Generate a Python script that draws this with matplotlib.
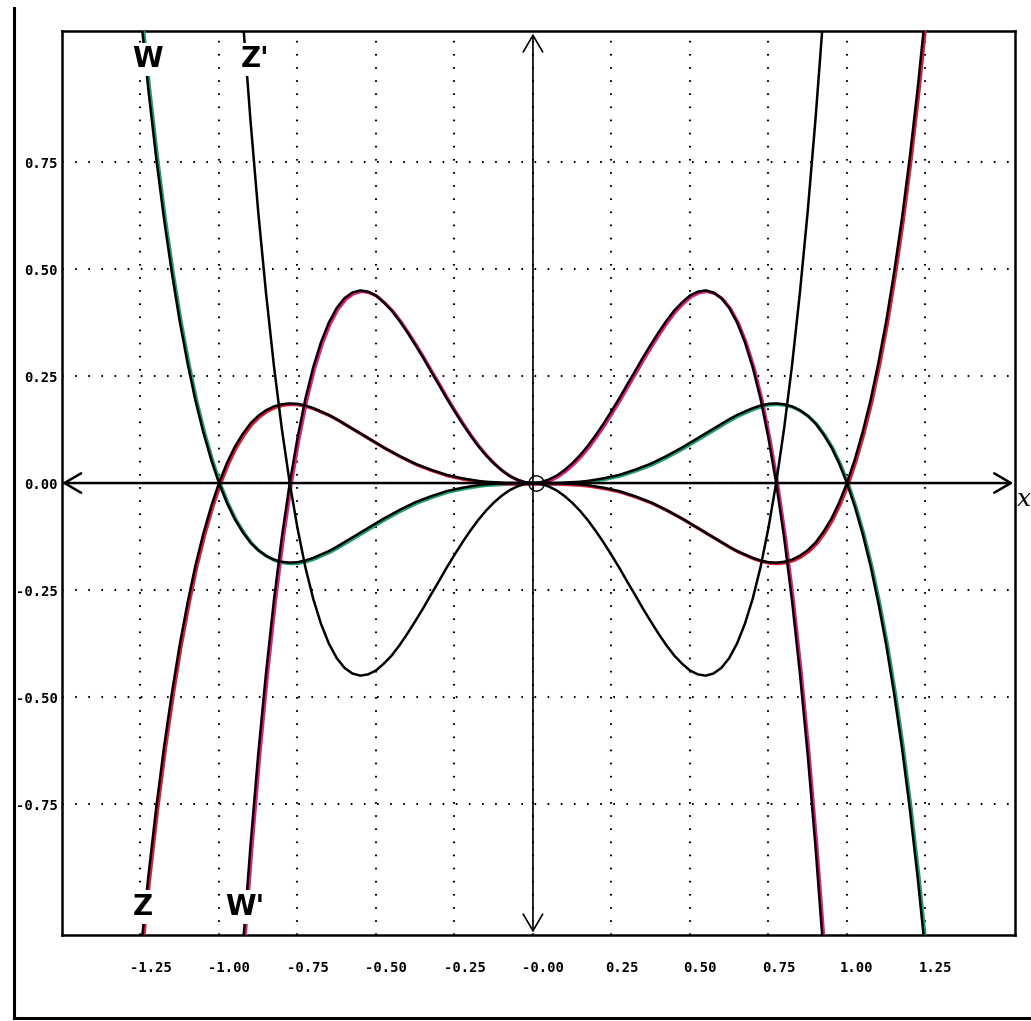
import numpy as np
import matplotlib
matplotlib.use('Agg')
import matplotlib.pyplot as plt
from matplotlib.lines import Line2D
from matplotlib import transforms

# ====================== DATI ======================
# ascisse di lettura: passo 0.025
x_small = np.round(np.arange(-1.25, 1.2501, 0.025), 3)
x_big = np.round(np.arange(-0.925, 0.9251, 0.025), 3)

W = [1.099, 0.920, 0.760, 0.617, 0.491, 0.378, 0.280, 0.193, 0.119, 0.055,
     0.000, -0.046, -0.084, -0.114, -0.139, -0.157, -0.170, -0.179, -0.184, -0.186,
     -0.185, -0.181, -0.175, -0.167, -0.159, -0.149, -0.138, -0.127, -0.116, -0.105,
     -0.094, -0.083, -0.073, -0.063, -0.054, -0.045, -0.038, -0.031, -0.025, -0.019,
     -0.015, -0.011, -0.008, -0.005, -0.003, -0.002, -0.001, 0.000, 0.000, 0.000,
     0.000,
     0.000, 0.000, 0.000, 0.001, 0.002, 0.003, 0.005, 0.008, 0.011, 0.015,
     0.019, 0.025, 0.031, 0.038, 0.045, 0.054, 0.063, 0.073, 0.083, 0.094,
     0.105, 0.116, 0.127, 0.138, 0.149, 0.159, 0.167, 0.175, 0.181, 0.185,
     0.186, 0.184, 0.179, 0.170, 0.157, 0.139, 0.114, 0.084, 0.046, 0.000,
     -0.055, -0.119, -0.193, -0.280, -0.378, -0.491, -0.617, -0.760, -0.920, -1.099]

Z = [-1.099, -0.920, -0.760, -0.617, -0.491, -0.378, -0.280, -0.193, -0.119, -0.055,
     0.000, 0.046, 0.084, 0.114, 0.139, 0.157, 0.170, 0.179, 0.184, 0.186,
     0.185, 0.181, 0.175, 0.167, 0.159, 0.149, 0.138, 0.127, 0.116, 0.105,
     0.094, 0.083, 0.073, 0.063, 0.054, 0.045, 0.038, 0.031, 0.025, 0.019,
     0.015, 0.011, 0.008, 0.005, 0.003, 0.002, 0.001, 0.000, 0.000, 0.000,
     0.000,
     0.000, 0.000, 0.000, -0.001, -0.002, -0.003, -0.005, -0.008, -0.011, -0.015,
     -0.019, -0.025, -0.031, -0.038, -0.045, -0.054, -0.063, -0.073, -0.083, -0.094,
     -0.105, -0.116, -0.127, -0.138, -0.149, -0.159, -0.167, -0.175, -0.181, -0.185,
     -0.186, -0.184, -0.179, -0.170, -0.157, -0.139, -0.114, -0.084, -0.046, 0.000,
     0.055, 0.119, 0.193, 0.280, 0.378, 0.491, 0.617, 0.760, 0.920, 1.099]

W1 = [-1.094, -0.851, -0.634, -0.443, -0.274, -0.128, -0.002, 0.105, 0.196, 0.270,
      0.329, 0.375, 0.409, 0.432, 0.445, 0.450, 0.447, 0.438, 0.422, 0.403,
      0.379, 0.352, 0.323, 0.293, 0.261, 0.230, 0.198, 0.168, 0.139, 0.112,
      0.087, 0.065, 0.046, 0.030, 0.017, 0.008, 0.002,
      0.000,
      0.002, 0.008, 0.017, 0.030, 0.046, 0.065, 0.087, 0.112, 0.139, 0.168,
      0.198, 0.230, 0.261, 0.293, 0.323, 0.352, 0.379, 0.403, 0.422, 0.438,
      0.447, 0.450, 0.445, 0.432, 0.409, 0.375, 0.329, 0.270, 0.196, 0.105,
      -0.002, -0.128, -0.274, -0.443, -0.634, -0.851, -1.094]

Z1 = [1.094, 0.851, 0.634, 0.443, 0.274, 0.128, 0.002, -0.105, -0.196, -0.270,
      -0.329, -0.375, -0.409, -0.432, -0.445, -0.450, -0.447, -0.438, -0.422, -0.403,
      -0.379, -0.352, -0.323, -0.293, -0.261, -0.230, -0.198, -0.168, -0.139, -0.112,
      -0.087, -0.065, -0.046, -0.030, -0.017, -0.008, -0.002,
      0.000,
      -0.002, -0.008, -0.017, -0.030, -0.046, -0.065, -0.087, -0.112, -0.139, -0.168,
      -0.198, -0.230, -0.261, -0.293, -0.323, -0.352, -0.379, -0.403, -0.422, -0.438,
      -0.447, -0.450, -0.445, -0.432, -0.409, -0.375, -0.329, -0.270, -0.196, -0.105,
      0.002, 0.128, 0.274, 0.443, 0.634, 0.851, 1.094]

xticks = [-1.25, -1.00, -0.75, -0.50, -0.25, 0.00, 0.25, 0.50, 0.75, 1.00, 1.25]
xtick_labels = ['-1.25', '-1.00', '-0.75', '-0.50', '-0.25', '-0.00',
                '0.25', '0.50', '0.75', '1.00', '1.25']
yticks = [-0.75, -0.50, -0.25, 0.00, 0.25, 0.50, 0.75]
ytick_labels = ['-0.75', '-0.50', '-0.25', '0.00', '0.25', '0.50', '0.75']

# ====================== PLOT ======================
fig = plt.figure(figsize=(10.31, 10.21), dpi=100)
ax = fig.add_axes([0.0601, 0.0842, 0.9243, 0.8854])
ax.set_xlim(-1.50, 1.535)
ax.set_ylim(-1.056, 1.056)

for s in ax.spines.values():
    s.set_linewidth(1.8)
    s.set_color('black')

# griglia puntinata
ax.set_xticks(xticks)
ax.set_xticklabels(xtick_labels)
ax.set_yticks(yticks)
ax.set_yticklabels(ytick_labels)
ax.grid(True, color='black', linestyle=(0, (0.8, 5.5)), linewidth=1.5)
ax.tick_params(length=0, labelsize=10)
ax.tick_params(axis='x', pad=19)
ax.tick_params(axis='y', pad=3)
for lab in ax.get_xticklabels() + ax.get_yticklabels():
    lab.set_family('DejaVu Sans Mono')
    lab.set_fontweight('bold')
shift = transforms.ScaledTranslation(0.10, 0, fig.dpi_scale_trans)
for lab in ax.get_xticklabels():
    lab.set_transform(lab.get_transform() + shift)

# curve: bordo colorato leggermente spostato + linea nera
off = transforms.offset_copy(ax.transData, fig=fig, x=1.5, y=-1.0, units='dots')
curves = [(x_small, W, '#1f9e6e'), (x_small, Z, '#d8203a'),
          (x_big, W1, '#e0207f'), (x_big, Z1, None)]
for xs, ys, col in curves:
    if col:
        ax.plot(xs, ys, color=col, linewidth=2.4, transform=off, zorder=3)
    ax.plot(xs, ys, color='black', linewidth=1.8, zorder=4)

# assi con frecce
arrow = dict(arrowstyle='<->, head_length=0.6, head_width=0.35', color='black',
             shrinkA=0, shrinkB=0, mutation_scale=20)
ax.annotate('', xy=(1.53, 0), xytext=(-1.5, 0),
            arrowprops=dict(arrow, lw=1.8), annotation_clip=False, zorder=5)
ax.annotate('', xy=(0, 1.05), xytext=(0, -1.05),
            arrowprops=dict(arrow, lw=1.2), annotation_clip=False, zorder=5)
ax.plot([0.01], [0], marker='o', markersize=11, markerfacecolor='none',
        markeredgecolor='black', markeredgewidth=1.0, zorder=6)

# etichette curve
lab_kw = dict(fontsize=20, fontweight='bold', ha='center', va='center', zorder=7,
              family='DejaVu Sans',
              bbox=dict(facecolor='white', edgecolor='none', pad=2))
ax.text(-1.229, 0.99, 'W', **lab_kw)
ax.text(-0.885, 0.99, "Z'", **lab_kw)
ax.text(-1.242, -0.99, 'Z', **lab_kw)
ax.text(-0.917, -0.99, "W'", **lab_kw)

fig.text(1024 / 1031, 1 - 500 / 1021, 'x', fontsize=18, style='italic',
         family='DejaVu Serif', ha='center', va='center')

# cornice esterna (bordo pagina)
fig.add_artist(Line2D([14 / 1031, 14 / 1031], [1 - 8 / 1021, 1 - 1018 / 1021],
                      transform=fig.transFigure, color='black', linewidth=2.2))
fig.add_artist(Line2D([14 / 1031, 1.0], [1 - 1018 / 1021, 1 - 1018 / 1021],
                      transform=fig.transFigure, color='black', linewidth=2.2))

fig.savefig('out.png', dpi=100)
